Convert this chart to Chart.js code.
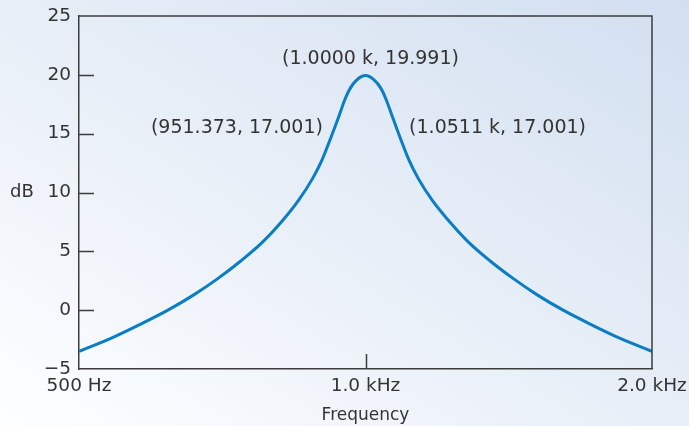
<!DOCTYPE html>
<html><head><meta charset="utf-8">
<script src="https://cdn.jsdelivr.net/npm/chart.js@4/dist/chart.umd.min.js"></script>
<style>
html,body{margin:0;padding:0;}
body{width:689px;height:426px;overflow:hidden;background:linear-gradient(to top right,#fdfeff 0%,#e7eef7 50%,#d2dff0 100%);}
#wrap{position:relative;width:689px;height:426px;}
</style></head><body>
<div id="wrap"><canvas id="c" width="689" height="426"></canvas></div>
<script>
// Data
const frequencies = [500, 540, 580, 620, 660, 700, 740, 780, 820, 850, 880, 900, 920, 935, 951.4, 960, 970, 980, 990, 1000, 1010, 1020, 1031, 1042, 1051.1, 1070, 1087, 1111, 1136, 1176, 1220, 1282, 1351, 1429, 1515, 1613, 1724, 1852, 2000];
const magnitudeDb = [-3.5, -2.4, -1.2, 0.0, 1.3, 2.7, 4.2, 5.8, 7.7, 9.3, 11.2, 12.75, 14.7, 16.2, 17.9, 18.6, 19.2, 19.6, 19.85, 19.95, 19.85, 19.6, 19.2, 18.6, 17.9, 16.2, 14.7, 12.75, 11.2, 9.3, 7.7, 5.8, 4.2, 2.7, 1.3, 0.0, -1.2, -2.4, -3.5];
const xTickValues = [500, 1000, 2000];
const xTickLabels = ['500 Hz', '1.0 kHz', '2.0 kHz'];
const yTickValues = [-5, 0, 5, 10, 15, 20, 25];
const annotationFreqs = [1000, 951.373, 1051.1];
const annotationDb = [19.991, 17.001, 17.001];
const annotationTexts = ['(1.0000 k, 19.991)', '(951.373, 17.001)', '(1.0511 k, 17.001)'];

const FONT = "'DejaVu Sans', sans-serif";
const TEXT = '#333333';
const AXIS = '#3c3c3c';

const overlay = {
  id: 'overlay',
  afterDraw(chart) {
    const {ctx, chartArea: a, scales: {x, y}} = chart;
    ctx.save();
    ctx.strokeStyle = AXIS;
    ctx.lineWidth = 1.5;
    ctx.beginPath();
    ctx.moveTo(a.left, a.top); ctx.lineTo(a.right, a.top); ctx.lineTo(a.right, a.bottom);
    yTickValues.forEach(v => {
      if (v > y.min && v < y.max) {
        const py = Math.round(y.getPixelForValue(v)) + 0.5;
        ctx.moveTo(a.left, py); ctx.lineTo(a.left + 15, py);
      }
    });
    xTickValues.forEach(v => {
      if (v > x.min && v < x.max) {
        const px = Math.round(x.getPixelForValue(v)) + 0.5;
        ctx.moveTo(px, a.bottom); ctx.lineTo(px, a.bottom - 15);
      }
    });
    ctx.stroke();
    ctx.fillStyle = TEXT;
    ctx.textBaseline = 'middle';
    ctx.textAlign = 'left';
    ctx.font = "18px " + FONT;
    ctx.fillText('dB', 10, y.getPixelForValue(10));
    ctx.font = "19px " + FONT;
    const offs = [[5, -16, 'center'], [-22, 18, 'right'], [23, 18, 'left']];
    annotationTexts.forEach((t, i) => {
      ctx.textAlign = offs[i][2];
      ctx.fillText(t, x.getPixelForValue(annotationFreqs[i]) + offs[i][0], y.getPixelForValue(annotationDb[i]) + offs[i][1]);
    });
    ctx.restore();
  }
};

new Chart(document.getElementById('c'), {
  type: 'line',
  data: {
    datasets: [{
      data: frequencies.map((f, i) => ({x: f, y: magnitudeDb[i]})),
      borderColor: '#0a7dc3',
      borderWidth: 3,
      pointRadius: 0,
      cubicInterpolationMode: 'monotone',
      fill: false
    }]
  },
  options: {
    responsive: false,
    animation: false,
    devicePixelRatio: 1,
    layout: {padding: {top: 16, right: 37, left: 0, bottom: 0}},
    plugins: {legend: {display: false}, tooltip: {enabled: false}},
    scales: {
      x: {
        type: 'logarithmic',
        min: 500, max: 2000,
        afterBuildTicks: s => { s.ticks = xTickValues.map(v => ({value: v})); },
        afterFit: s => { s.height = 57; s.paddingLeft = 0; s.paddingRight = 0; },
        grid: {display: false, drawTicks: false},
        border: {display: true, color: AXIS, width: 1.5},
        ticks: {
          autoSkip: false, maxRotation: 0, padding: 6,
          color: TEXT, font: {family: FONT, size: 18.5},
          callback: (v, i) => xTickLabels[i]
        },
        title: {display: true, text: 'Frequency', color: TEXT, font: {family: FONT, size: 17}, padding: {top: 0, bottom: 0}}
      },
      y: {
        type: 'linear',
        min: -5, max: 25,
        afterBuildTicks: s => { s.ticks = yTickValues.map(v => ({value: v})); },
        afterFit: s => { s.width = 79; s.paddingTop = 0; s.paddingBottom = 0; },
        grid: {display: false, drawTicks: false},
        border: {display: true, color: AXIS, width: 1.5},
        ticks: {
          padding: 8, color: TEXT, font: {family: FONT, size: 18.5},
          callback: v => v < 0 ? '\u2212' + Math.abs(v) : String(v)
        }
      }
    }
  },
  plugins: [overlay]
});
</script>
</body></html>
